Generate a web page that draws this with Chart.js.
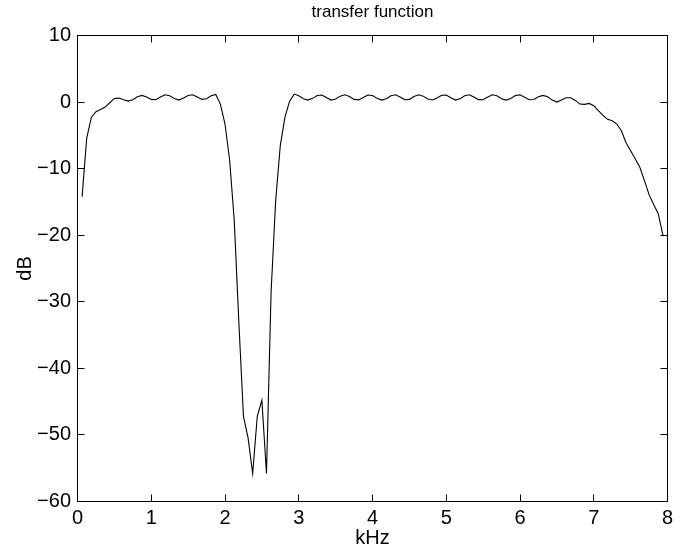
<!DOCTYPE html>
<html>
<head>
<meta charset="utf-8">
<script src="https://cdn.jsdelivr.net/npm/chart.js@4.4.1/dist/chart.umd.min.js"></script>
<style>
  html, body { margin: 0; padding: 0; background: #fff; }
  canvas { display: block; }
</style>
</head>
<body>
<canvas id="tfChart" width="682" height="551"></canvas>
<script>
// frequency bins (kHz), 1/16 kHz apart
const freqKHz = [
  0.0625, 0.125, 0.1875, 0.25, 0.3125, 0.375, 0.4375, 0.5,
  0.5625, 0.625, 0.6875, 0.75, 0.8125, 0.875, 0.9375, 1.0,
  1.0625, 1.125, 1.1875, 1.25, 1.3125, 1.375, 1.4375, 1.5,
  1.5625, 1.625, 1.6875, 1.75, 1.8125, 1.875, 1.9375, 2.0,
  2.0625, 2.125, 2.1875, 2.25, 2.3125, 2.375, 2.4375, 2.5,
  2.5625, 2.625, 2.6875, 2.75, 2.8125, 2.875, 2.9375, 3.0,
  3.0625, 3.125, 3.1875, 3.25, 3.3125, 3.375, 3.4375, 3.5,
  3.5625, 3.625, 3.6875, 3.75, 3.8125, 3.875, 3.9375, 4.0,
  4.0625, 4.125, 4.1875, 4.25, 4.3125, 4.375, 4.4375, 4.5,
  4.5625, 4.625, 4.6875, 4.75, 4.8125, 4.875, 4.9375, 5.0,
  5.0625, 5.125, 5.1875, 5.25, 5.3125, 5.375, 5.4375, 5.5,
  5.5625, 5.625, 5.6875, 5.75, 5.8125, 5.875, 5.9375, 6.0,
  6.0625, 6.125, 6.1875, 6.25, 6.3125, 6.375, 6.4375, 6.5,
  6.5625, 6.625, 6.6875, 6.75, 6.8125, 6.875, 6.9375, 7.0,
  7.0625, 7.125, 7.1875, 7.25, 7.3125, 7.375, 7.4375, 7.5,
  7.5625, 7.625, 7.6875, 7.75, 7.8125, 7.875, 7.9375
];

// magnitude response (dB) at each bin
const gainDb = [
  -14.2, -5.4, -2.3, -1.45, -1.1, -0.75, -0.1, 0.55,
  0.6, 0.35, 0.15, 0.35, 0.8, 1.0, 0.75, 0.4,
  0.35, 0.75, 1.1, 0.95, 0.55, 0.3, 0.6, 1.0,
  1.1, 0.75, 0.4, 0.5, 0.95, 1.15, -0.3, -3.3,
  -8.7, -17.7, -33.0, -47.2, -50.4, -55.8, -47.2, -44.8,
  -55.8, -28.5, -14.7, -6.5, -2.3, 0.1, 1.2, 0.94,
  0.5, 0.3, 0.56, 0.99, 1.06, 0.7, 0.3, 0.45,
  0.89, 1.1, 0.82, 0.4, 0.33, 0.7, 1.06, 0.99,
  0.56, 0.3, 0.5, 0.94, 1.1, 0.77, 0.36, 0.4,
  0.82, 1.1, 0.89, 0.45, 0.31, 0.62, 1.03, 1.04,
  0.64, 0.3, 0.5, 0.94, 1.1, 0.77, 0.36, 0.35,
  0.75, 1.1, 0.96, 0.51, 0.3, 0.54, 0.98, 1.08,
  0.71, 0.34, 0.38, 0.8, 1.0, 0.8, 0.3, 0.0,
  0.3, 0.65, 0.65, 0.25, -0.3, -0.35, -0.2, -0.55,
  -1.3, -2.0, -2.6, -2.8, -3.3, -4.3, -6.1, -7.3,
  -8.5, -9.8, -11.8, -13.9, -15.4, -16.8, -20.0
];

const xTicks = [0, 1, 2, 3, 4, 5, 6, 7, 8];
const yTicks = [-60, -50, -40, -30, -20, -10, 0, 10];

const fontFamily = "'Liberation Sans', Helvetica, Arial, sans-serif";

// box around the axes with inward tick marks on all four sides
const axesBox = {
  id: 'axesBox',
  afterDraw(chart) {
    const { ctx, chartArea: a, scales: { x, y } } = chart;
    const len = 7;
    ctx.save();
    ctx.strokeStyle = '#000';
    ctx.lineWidth = 1;
    ctx.strokeRect(a.left, a.top, a.right - a.left, a.bottom - a.top);
    ctx.beginPath();
    xTicks.forEach(v => {
      const px = Math.round(x.getPixelForValue(v) - 0.5) + 0.5;
      ctx.moveTo(px, a.bottom); ctx.lineTo(px, a.bottom - len);
      ctx.moveTo(px, a.top); ctx.lineTo(px, a.top + len);
    });
    yTicks.forEach(v => {
      const py = Math.round(y.getPixelForValue(v) - 0.5) + 0.5;
      ctx.moveTo(a.left, py); ctx.lineTo(a.left + len, py);
      ctx.moveTo(a.right, py); ctx.lineTo(a.right - len, py);
    });
    ctx.stroke();
    ctx.restore();
  }
};

new Chart(document.getElementById('tfChart'), {
  type: 'line',
  data: {
    datasets: [{
      data: freqKHz.map((f, i) => ({ x: f, y: gainDb[i] })),
      borderColor: '#000',
      borderWidth: 1.1,
      pointRadius: 0,
      tension: 0,
      fill: false
    }]
  },
  options: {
    responsive: false,
    animation: false,
    layout: { padding: { left: 0, right: 14.5, top: 0, bottom: 0 } },
    plugins: {
      legend: { display: false },
      tooltip: { enabled: false },
      title: {
        display: true,
        text: 'transfer function',
        fullSize: false,
        color: '#000',
        font: { family: fontFamily, size: 17, weight: 'normal', lineHeight: 1.2 },
        padding: { top: 2, bottom: 13.1 }
      }
    },
    scales: {
      x: {
        type: 'linear',
        min: 0,
        max: 8,
        afterBuildTicks: s => { s.ticks = xTicks.map(v => ({ value: v })); },
        afterFit: s => { s.height = 49.5; },
        grid: { display: false, drawTicks: false },
        border: { display: false },
        ticks: {
          color: '#000',
          padding: 5,
          maxRotation: 0,
          font: { family: fontFamily, size: 20 }
        },
        title: {
          display: true,
          text: 'kHz',
          color: '#000',
          font: { family: fontFamily, size: 20 },
          padding: { top: 0, bottom: 1 }
        }
      },
      y: {
        type: 'linear',
        min: -60,
        max: 10,
        afterBuildTicks: s => { s.ticks = yTicks.map(v => ({ value: v })); },
        afterFit: s => { s.width = 77.5; },
        grid: { display: false, drawTicks: false },
        border: { display: false },
        ticks: {
          color: '#000',
          padding: 6.5,
          font: { family: fontFamily, size: 20 },
          callback: v => String(v).replace('-', '\u2212')
        },
        title: {
          display: true,
          text: 'dB',
          color: '#000',
          font: { family: fontFamily, size: 20 },
          padding: { top: 13, bottom: 0 }
        }
      }
    }
  },
  plugins: [axesBox]
});
</script>
</body>
</html>
